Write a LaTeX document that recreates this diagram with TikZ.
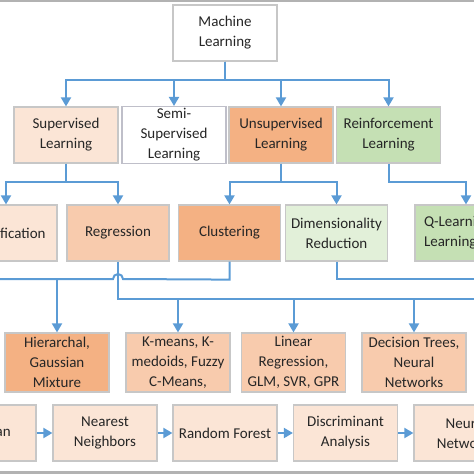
\documentclass[tikz,border=0pt]{standalone}
\usepackage{fontspec}
\setmainfont{Carlito}
\usepackage{xcolor}
\usetikzlibrary{arrows.meta,positioning,calc}

\definecolor{peach}{HTML}{FBE5D6}
\definecolor{salmon}{HTML}{F8CBAD}
\definecolor{orng}{HTML}{F4B183}
\definecolor{mint}{HTML}{E2F0D9}
\definecolor{sage}{HTML}{C5E0B4}
\definecolor{wire}{HTML}{5B9BD5}

\begin{document}
\begin{tikzpicture}[
    x=1pt, y=-1pt,
    box/.style={
        rectangle, draw=black!22, line width=1.2pt,
        minimum width=104pt, minimum height=56pt, inner sep=2pt,
        align=center, text=black!85,
        font=\fontsize{15}{20}\selectfont
    },
    link/.style={draw=wire, line width=2pt},
    arrow/.style={link, -{Triangle[width=10pt,length=9pt]}}
]
\useasboundingbox (0,0) rectangle (474,474);

% page edges
\fill[black!30] (0,0) rectangle (474,2);
\fill[black!30] (0,471) rectangle (474,474);

% root
\node[box, fill=white] (ml) at (225,33) {Machine\\Learning};

% learning types
\node[box, fill=peach] (sup) at (66,135) {Supervised\\Learning};
\node[box, fill=white, draw=blue!15!black!25] (semi) at (174,135) {Semi-\\Supervised\\Learning};
\node[box, fill=orng] (uns) at (281,135) {Unsupervised\\Learning};
\node[box, fill=sage] (rl) at (388.5,135) {Reinforcement\\Learning};

% tasks
\node[box, fill=peach, minimum width=102pt] (cls) at (6,233) {Classification};
\node[box, fill=salmon, minimum width=102pt] (reg) at (118,233) {Regression};
\node[box, fill=orng, minimum width=102pt] (clu) at (229.5,233) {Clustering};
\node[box, fill=mint, minimum width=102pt] (dim) at (336.5,233) {Dimensionality\\Reduction};
\node[box, fill=sage, minimum width=102pt, align=left, text width=84pt] (ql) at (466,233) {Q-Learning\\Learning};

% methods
\node[box, fill=orng, minimum height=59pt] (hier) at (57,362.5) {Hierarchal,\\Gaussian\\Mixture};
\node[box, fill=salmon, minimum height=59pt] (km) at (178,362.5) {K-means, K-\\medoids, Fuzzy\\C-Means,};
\node[box, fill=salmon, minimum height=59pt] (lin) at (293.5,362.5) {Linear\\Regression,\\GLM, SVR, GPR};
\node[box, fill=salmon, minimum height=59pt] (dt) at (414,362.5) {Decision Trees,\\Neural\\Networks};

% classifiers
\node[box, fill=peach] (bay) at (-16,433) {Bayesian};
\node[box, fill=peach] (nn) at (105,433) {Nearest\\Neighbors};
\node[box, fill=peach] (rf) at (225,433) {Random Forest};
\node[box, fill=peach] (da) at (345.5,433) {Discriminant\\Analysis};
\node[box, fill=peach] (neu) at (466,433) {Neural\\Networks};

% root -> types
\foreach \t in {sup,semi,uns,rl}
    \draw[arrow] (ml.south) -- ++(0,18) -| (\t.north);

% types -> tasks
\draw[arrow] (sup.south) -- ++(0,18) -| (cls.north);
\draw[arrow] (sup.south) -- ++(0,18) -| (reg.north);
\draw[arrow] (uns.south) -- ++(0,18) -| (clu.north);
\draw[arrow] (uns.south) -- ++(0,18) -| (dim.north);
\draw[arrow] (rl.south) -- ++(0,18) -| (ql.north);

% tasks -> methods
\coordinate (west1) at (-5,279);
\coordinate (east1) at (480,279);
\coordinate (east2) at (480,299);
\draw[link] (clu.south) -- ++(0,18) -- (123,279)
    arc[start angle=0, end angle=180, radius=5pt] -- (west1);
\draw[arrow] (hier.north |- west1) -- (hier.north);
\draw[link] (dim.south) |- (east1);
\draw[link] (reg.south) |- (east2);
\foreach \m in {km,lin,dt}
    \draw[arrow] (\m.north |- east2) -- (\m.north);

% classifier chain
\draw[arrow] (bay) -- (nn);
\draw[arrow] (nn) -- (rf);
\draw[arrow] (rf) -- (da);
\draw[arrow] (da) -- (neu);

\end{tikzpicture}
\end{document}
